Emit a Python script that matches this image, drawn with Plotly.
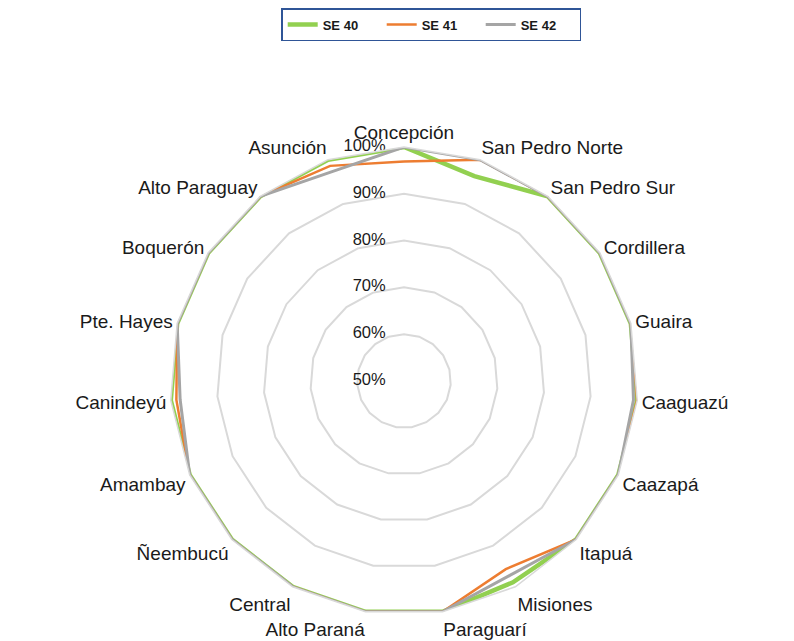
import plotly.graph_objects as go

categories = ["Concepción", "San Pedro Norte", "San Pedro Sur", "Cordillera", "Guaira",
              "Caaguazú", "Caazapá", "Itapuá", "Misiones", "Paraguarí", "Alto Paraná",
              "Central", "Ñeembucú", "Amambay", "Canindeyú", "Pte. Hayes", "Boquerón",
              "Alto Paraguay", "Asunción"]
se40 = [100, 96.3, 100, 100, 100, 100, 100, 100, 98.9, 100, 100, 100, 100, 100, 100, 100, 100, 100, 100]
se41 = [96.9, 100, 100, 100, 100, 100, 100, 100, 95.7, 100, 100, 100, 100, 100, 98.8, 100, 100, 100, 98.6]
se42 = [100, 100, 100, 100, 100, 99.2, 100, 100, 97.3, 100, 100, 100, 100, 100, 98.0, 100, 100, 100, 97.3]
series_names = ["SE 40", "SE 41", "SE 42"]
tick_vals = [50, 60, 70, 80, 90, 100]
tick_text = ["50%", "60%", "70%", "80%", "90%", "100%"]

W, H = 794, 641
cx, cy, R = 396, 373, 234

fig = go.Figure()
styles = [("#92D050", 4.5), ("#ED7D31", 2.5), ("#A5A5A5", 3)]
for name, vals, (col, w) in zip(series_names, [se40, se41, se42], styles):
    fig.add_trace(go.Scatterpolar(
        r=vals + vals[:1], theta=categories + categories[:1], mode="lines",
        name=name, line=dict(color=col, width=w)))

# radial tick labels, placed left of the vertical axis like the original
fig.add_trace(go.Scatterpolar(
    r=tick_vals, theta=[categories[0]] * len(tick_vals),
    text=[t + "\u00a0" * 4 for t in tick_text], mode="text",
    textposition="middle left", textfont=dict(size=16.5, color="#1a1a1a"),
    cliponaxis=False, showlegend=False, hoverinfo="skip"))

fig.update_layout(
    width=W, height=H,
    margin=dict(l=0, r=0, t=0, b=0, autoexpand=False),
    paper_bgcolor="white",
    font=dict(family="Liberation Sans, Arial, sans-serif", color="#1a1a1a"),
    polar=dict(
        domain=dict(x=[(cx - R) / W, (cx + R) / W],
                    y=[(H - cy - R) / H, (H - cy + R) / H]),
        bgcolor="white",
        gridshape="linear",
        radialaxis=dict(range=[49.99, 100], tickvals=tick_vals, showticklabels=False,
                        angle=90, showline=False,
                        gridcolor="#d9d9d9", gridwidth=1.5, ticks=""),
        angularaxis=dict(direction="clockwise", rotation=90, showgrid=False,
                         showline=True, linecolor="#d9d9d9", linewidth=1.5, ticks="",
                         tickfont=dict(size=19, color="#1a1a1a")),
    ),
    legend=dict(orientation="h", x=0.533, xanchor="center", y=1.0, yanchor="top",
                bordercolor="#2F5597", borderwidth=1.5,
                font=dict(size=13, weight="bold", color="#1a1a1a"),
                entrywidth=54, entrywidthmode="pixels"),
)

fig.write_html("out.html")
